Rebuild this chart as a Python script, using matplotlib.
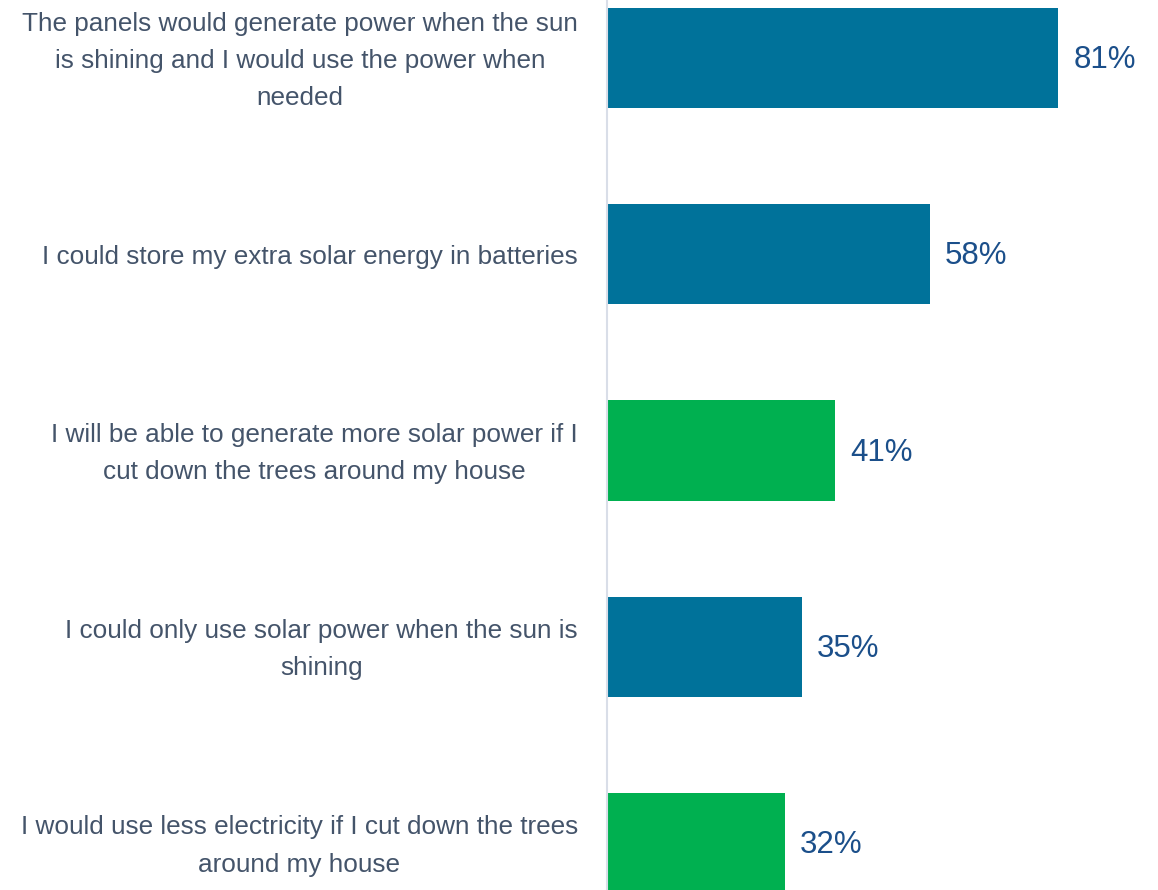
import matplotlib.pyplot as plt

labels = [
    'The panels would generate power when the sun\nis shining and I would use the power when\nneeded',
    'I could store my extra solar energy in batteries',
    'I will be able to generate more solar power if I\ncut down the trees around my house',
    'I could only use solar power when the sun is\nshining',
    'I would use less electricity if I cut down the trees\naround my house',
]
values = [81, 58, 41, 35, 32]
colors = ['#00729A', '#00729A', '#00B050', '#00729A', '#00B050']

fig = plt.figure(figsize=(11.58, 8.9), dpi=100)
ax = fig.add_axes([607 / 1158, 0, 1 - 607 / 1158, 1])

y = list(range(len(values)))
ax.barh(y, values, height=0.51, color=colors)
ax.set_xlim(0, 551 / 5.57)
ax.set_ylim(4.239, -0.2955)

for yi, v in zip(y, values):
    ax.annotate('{}%'.format(v), xy=(v, yi), xytext=(15, -2),
                textcoords='offset pixels', va='center', ha='left',
                fontsize=22.5, color='#1B4F8A', family='Liberation Sans')

for yi, lab in zip(y, labels):
    ax.annotate(lab, xy=(0, yi), xytext=(-29, -3), textcoords='offset pixels',
                ha='right', va='center', multialignment='center',
                fontsize=18.8, color='#44546A', family='Liberation Sans',
                linespacing=1.7)

for s in ['top', 'right', 'bottom']:
    ax.spines[s].set_visible(False)
ax.spines['left'].set_color('#D9DEE8')
ax.spines['left'].set_linewidth(1.5)
ax.set_xticks([])
ax.set_yticks([])

fig.savefig('out.png', dpi=100)
